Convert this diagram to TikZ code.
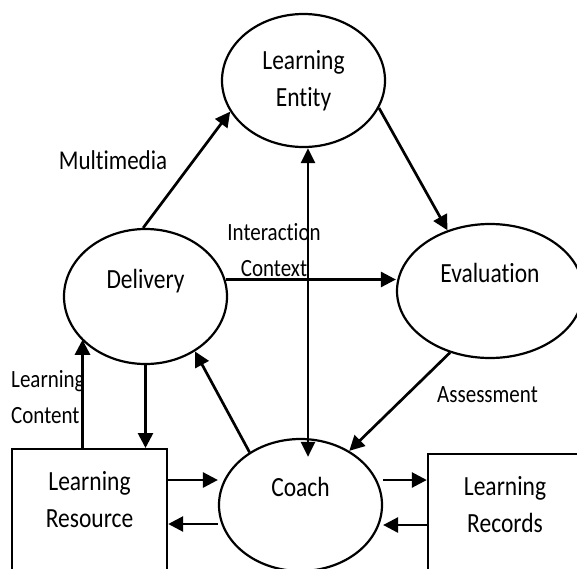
\documentclass[tikz,border=0pt]{standalone}
\usepackage{fontspec}
\setmainfont{Carlito}[Ligatures={NoCommon,NoContextual}, Contextuals=NoAlternate]
\usepackage{graphicx}
\usetikzlibrary{shapes.geometric,arrows.meta}
\newcommand{\txt}[2][c]{\scalebox{1}[1.18]{\begin{tabular}{@{}#1@{}}#2\end{tabular}}}
\tikzset{
  ell/.style={ellipse, draw, line width=2.2pt, inner sep=0pt, font=\fontsize{23.5}{31.5}\selectfont},
  box/.style={rectangle, draw, line width=2.4pt, inner xsep=0pt, inner ysep=15pt, text depth=120pt, anchor=north, font=\fontsize{23.5}{31.5}\selectfont},
  lbl/.style={inner sep=0pt, font=\fontsize{21}{30.5}\selectfont},
  arr/.style={-{Triangle[length=15pt,width=15pt]}, line width=2.7pt},
  both/.style={{Triangle[length=15pt,width=14pt]}-{Triangle[length=15pt,width=14pt]}, line width=2.7pt},
}

\begin{document}
\begin{tikzpicture}[x=1pt,y=-1pt]
\clip (0,0) rectangle (577,568);
\fill[white] (0,0) rectangle (577,568);
% the four ellipses
\node[ell, minimum width=163pt, minimum height=133pt] (ent) at (303.5,80.5) {\txt{Learning\\Entity}};
\node[ell, minimum width=163pt, minimum height=135pt, text depth=43pt] (del) at (145.5,296.5) {\txt{Delivery}};
\node[ell, minimum width=186pt, minimum height=134pt, text depth=43pt] (eva) at (490,291) {\txt{Evaluation}};
\node[ell, minimum width=163pt, minimum height=132pt, text depth=43pt] (coach) at (300.5,505) {\txt{Coach}};
% the two boxes
\node[box, minimum width=155pt] (res) at (89.5,448) {\txt{Learning\\Resource}};
\node[box, minimum width=154pt] (rec) at (505,453) {\txt{Learning\\Records}};
% labels
\node[lbl, font=\fontsize{23}{31}\selectfont] (mm) at (113,162) {\txt{Multimedia}};
\node[lbl] (ic) at (274,251) {\txt{Interaction\\Context}};
\node[lbl, anchor=west] (lc) at (11,398) {\txt[l]{Learning\\Content}};
\node[lbl] (as) at (487.5,395) {\txt{Assessment}};

\draw[arr] (del.92) -- (ent.203);
\draw[arr] (ent.340) -- (eva.125);
\coordinate (v) at ([xshift=4.5pt]ent.south);
\draw[both, shorten >=-19pt] (v) -- (v |- coach.north);
\draw[arr] (del.12) -- (del.12 -| eva.west);
\draw[arr] (eva.237) -- (coach.48);
\draw[arr] (coach.134) -- (del.312);
\draw[arr] (del.south) -- (del.south |- res.north);
\coordinate (c) at ([xshift=-7pt]res.north);
\draw[arr] (c) -- (c |- del.214);
\coordinate (a1) at ([yshift=-32pt]res.north east);
\coordinate (a2) at ([yshift=-76pt]res.north east);
\draw[arr] (a1) -- (a1 -| coach.west);
\draw[arr] (a2 -| coach.west) -- (a2);
\coordinate (b1) at ([yshift=-27pt]rec.north west);
\coordinate (b2) at ([yshift=-72pt]rec.north west);
\draw[arr] (b1 -| coach.east) -- (b1);
\draw[arr] (b2) -- (b2 -| coach.east);
\end{tikzpicture}
\end{document}
